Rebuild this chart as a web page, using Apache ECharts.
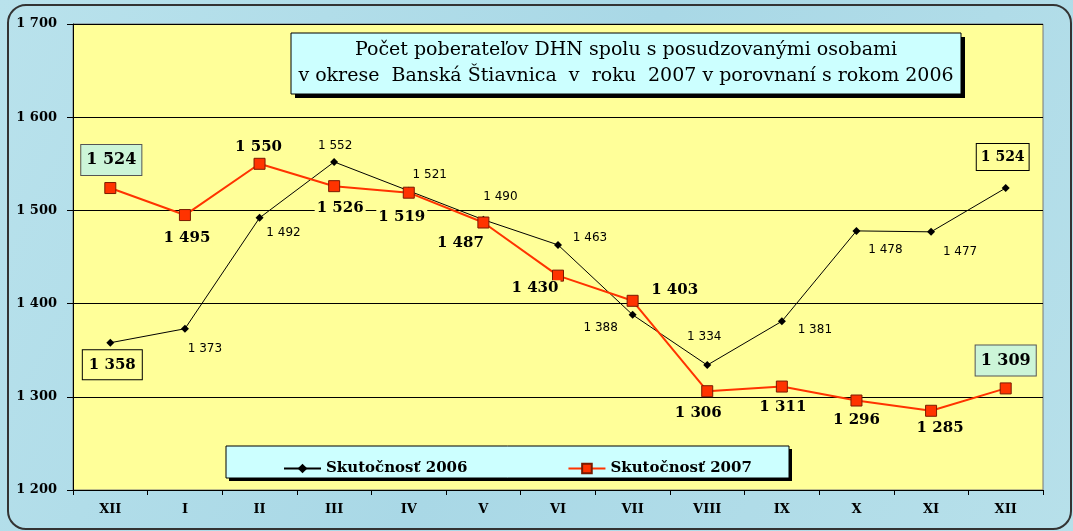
<!DOCTYPE html>
<html>
<head>
<meta charset="utf-8">
<script src="https://cdn.jsdelivr.net/npm/echarts@6/dist/echarts.min.js"></script>
<style>
  html, body { margin: 0; padding: 0; background: #fff; }
  #chart { width: 1073px; height: 531px; }
</style>
</head>
<body>
<div id="chart"></div>
<script>
// mesiace
const months = ['XII', 'I', 'II', 'III', 'IV', 'V', 'VI', 'VII', 'VIII', 'IX', 'X', 'XI', 'XII'];
// Skutočnosť 2006
const vals2006 = [1358, 1373, 1492, 1552, 1521, 1490, 1463, 1388, 1334, 1381, 1478, 1477, 1524];
// Skutočnosť 2007
const vals2007 = [1524, 1495, 1550, 1526, 1519, 1487, 1430, 1403, 1306, 1311, 1296, 1285, 1309];
const yTicks = [1200, 1300, 1400, 1500, 1600, 1700];

// posuny popiskov (px) voci bodu
const off2006 = [[2, 22], [20, 20], [24, 15], [1, -16], [21, -16], [17, -23], [32, -7],
                 [-32, 13], [-3, -28], [33, 9], [29, 19], [29, 20], [-3, -31]];
const off2007 = [[1, -28], [2, 23], [-1, -17], [6, 22], [-7, 24], [-23, 21], [-23, 12],
                 [42, -11], [-9, 22], [1, 21], [0, 20], [9, 17], [0, -28]];

const fmt = v => String(v).replace(/\B(?=(\d{3})+(?!\d))/g, ' ');
const serif = 'DejaVu Serif';

const data2006 = vals2006.map((v, i) => {
    const lab = { offset: off2006[i] };
    if (i === 0 || i === vals2006.length - 1) {
        Object.assign(lab, {
            fontFamily: serif, fontWeight: 'bold', fontSize: i === 0 ? 15 : 14,
            backgroundColor: '#ffff99', borderColor: '#000', borderWidth: 1,
            padding: i === 0 ? [7, 6] : [6, 4]
        });
    }
    return { value: v, label: lab };
});
const data2007 = vals2007.map((v, i) => {
    const lab = { offset: off2007[i] };
    if (i === 0 || i === vals2007.length - 1) {
        Object.assign(lab, {
            fontSize: 16, backgroundColor: '#ccf5d8', borderColor: '#555', borderWidth: 1,
            padding: [7, 5]
        });
    }
    return { value: v, label: lab };
});

// rámček so stieňom
const shadowBox = (x, y, w, h, d) => [
    { type: 'rect', z: 100, shape: { x: x + d, y: y + d, width: w, height: h }, style: { fill: '#000' } },
    { type: 'rect', z: 101, shape: { x: x, y: y, width: w, height: h }, style: { fill: '#ccffff', stroke: '#000', lineWidth: 1 } }
];

const myChart = echarts.init(document.getElementById('chart'));
const option = {
    animation: false,
    backgroundColor: {
        type: 'linear', x: 0, y: 0, x2: 1, y2: 1,
        colorStops: [{ offset: 0, color: '#b9e2ec' }, { offset: 0.5, color: '#a9d8e6' }, { offset: 1, color: '#b7e0ea' }]
    },
    grid: {
        left: 73, right: 30, top: 24, bottom: 41,
        show: true, backgroundColor: '#ffff99', borderColor: '#777', borderWidth: 1
    },
    xAxis: {
        type: 'category',
        data: months,
        axisLine: { lineStyle: { color: '#000', width: 1 } },
        axisTick: { show: true, length: 5, lineStyle: { color: '#000' } },
        axisLabel: { color: '#000', fontFamily: serif, fontWeight: 'bold', fontSize: 13, margin: 13 }
    },
    yAxis: {
        type: 'value',
        min: yTicks[0], max: yTicks[yTicks.length - 1], interval: 100,
        axisLine: { show: true, lineStyle: { color: '#000', width: 1 } },
        axisTick: { show: true, length: 6, lineStyle: { color: '#000' } },
        splitLine: { lineStyle: { color: '#000', width: 1 } },
        axisLabel: { color: '#000', fontFamily: serif, fontWeight: 'bold', fontSize: 13, margin: 16, formatter: fmt }
    },
    legend: {
        left: 278, top: 456, z: 300,
        itemWidth: 37, itemHeight: 12, itemGap: 100,
        textStyle: { color: '#000', fontFamily: serif, fontWeight: 'bold', fontSize: 15 },
        data: ['Skutočnosť 2006', 'Skutočnosť 2007']
    },
    graphic: [
        ...shadowBox(291, 33, 670, 61, 4),
        {
            type: 'text', z: 102, x: 626, y: 63,
            style: {
                text: 'Počet poberateľov DHN spolu s posudzovanými osobami\nv okrese  Banská Štiavnica  v  roku  2007 v porovnaní s rokom 2006',
                fontFamily: serif, fontSize: 19, lineHeight: 26, fill: '#000',
                align: 'center', verticalAlign: 'middle'
            }
        },
        ...shadowBox(226, 446, 563, 32, 3),
        {
            type: 'rect', z: 100,
            shape: { x: 8, y: 5, width: 1063, height: 524, r: 18 },
            style: { fill: 'none', stroke: '#333', lineWidth: 2 }
        }
    ],
    series: [
        {
            name: 'Skutočnosť 2006',
            type: 'line',
            data: data2006,
            symbol: 'diamond', symbolSize: 8,
            itemStyle: { color: '#000' },
            lineStyle: { color: '#000', width: 1 },
            label: {
                show: true, position: 'inside', formatter: p => fmt(p.value),
                color: '#000', fontFamily: 'DejaVu Sans', fontSize: 12
            },
            z: 3
        },
        {
            name: 'Skutočnosť 2007',
            type: 'line',
            data: data2007,
            symbol: 'rect', symbolSize: 11,
            itemStyle: { color: '#ff3300', borderColor: '#7a1a00', borderWidth: 1 },
            lineStyle: { color: '#ff3300', width: 2 },
            label: {
                show: true, position: 'inside', formatter: p => fmt(p.value),
                color: '#000', fontFamily: serif, fontWeight: 'bold', fontSize: 15,
                backgroundColor: '#ffff99', padding: [0, 2]
            },
            z: 4
        }
    ]
};
myChart.setOption(option);
</script>
</body>
</html>
